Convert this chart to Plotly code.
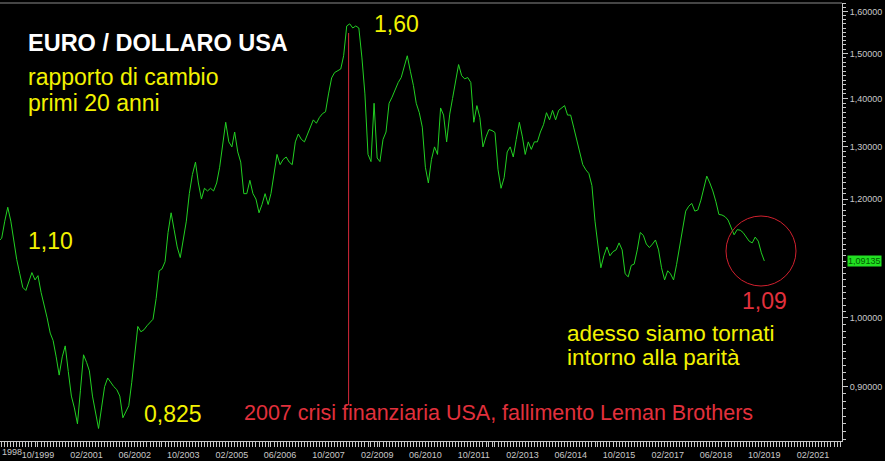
import numpy as np
import pandas as pd
import plotly.graph_objects as go

# ---------------- data (monthly EUR/USD) ----------------
start_month = "1998-09-01"
eur_1998 = [1.125, 1.13, 1.16, 1.185]
eur_1999 = [1.16, 1.125, 1.094, 1.07, 1.048, 1.043, 1.056, 1.072, 1.06, 1.067, 1.04, 1.022]
eur_2000 = [1.0, 0.977, 0.966, 0.942, 0.916, 0.942, 0.958, 0.921, 0.887, 0.871, 0.85, 0.895]
eur_2001 = [0.945, 0.934, 0.922, 0.887, 0.863, 0.844, 0.871, 0.90, 0.912, 0.906, 0.90, 0.896]
eur_2002 = [0.887, 0.858, 0.865, 0.874, 0.906, 0.95, 0.987, 0.979, 0.982, 0.988, 0.993, 0.998]
eur_2003 = [1.03, 1.075, 1.078, 1.09, 1.14, 1.175, 1.145, 1.115, 1.097, 1.13, 1.16, 1.21]
eur_2004 = [1.246, 1.27, 1.23, 1.20, 1.22, 1.215, 1.22, 1.215, 1.23, 1.26, 1.31, 1.35]
eur_2005 = [1.31, 1.30, 1.33, 1.29, 1.27, 1.21, 1.21, 1.235, 1.21, 1.20, 1.175, 1.19]
eur_2006 = [1.21, 1.19, 1.21, 1.25, 1.285, 1.265, 1.275, 1.28, 1.27, 1.265, 1.31, 1.326]
eur_2007 = [1.315, 1.31, 1.325, 1.338, 1.355, 1.348, 1.36, 1.368, 1.372, 1.41, 1.445, 1.457]
eur_2008 = [1.462, 1.465, 1.495, 1.565, 1.57, 1.56, 1.565, 1.56, 1.49, 1.41, 1.285, 1.271]
eur_2009 = [1.39, 1.278, 1.271, 1.315, 1.33, 1.39, 1.403, 1.42, 1.435, 1.446, 1.47, 1.495]
eur_2010 = [1.46, 1.428, 1.39, 1.37, 1.34, 1.26, 1.23, 1.275, 1.30, 1.285, 1.38, 1.365]
eur_2011 = [1.31, 1.367, 1.40, 1.435, 1.475, 1.45, 1.443, 1.446, 1.435, 1.35, 1.385, 1.36]
eur_2012 = [1.30, 1.32, 1.335, 1.333, 1.329, 1.255, 1.22, 1.24, 1.29, 1.30, 1.28, 1.315]
eur_2013 = [1.35, 1.32, 1.285, 1.31, 1.295, 1.31, 1.31, 1.33, 1.345, 1.37, 1.355, 1.375]
eur_2014 = [1.355, 1.375, 1.38, 1.385, 1.365, 1.365, 1.34, 1.315, 1.285, 1.265, 1.255, 1.248]
eur_2015 = [1.225, 1.16, 1.12, 1.08, 1.10, 1.115, 1.10, 1.107, 1.11, 1.122, 1.11, 1.07]
eur_2016 = [1.065, 1.084, 1.086, 1.11, 1.14, 1.135, 1.12, 1.114, 1.12, 1.127, 1.11, 1.08]
eur_2017 = [1.06, 1.075, 1.07, 1.06, 1.085, 1.114, 1.15, 1.178, 1.187, 1.192, 1.178, 1.18]
eur_2018 = [1.198, 1.22, 1.243, 1.23, 1.215, 1.195, 1.172, 1.171, 1.168, 1.162, 1.148, 1.136]
eur_2019 = [1.145, 1.144, 1.14, 1.132, 1.125, 1.122, 1.132, 1.125, 1.105, 1.09135]

y_ticks = [0.9, 1.0, 1.1, 1.2, 1.3, 1.4, 1.5, 1.6]
# the 1,10000 label is hidden behind the green last-value box in the reference
y_tick_labels = ["0,90000", "1,00000", "", "1,20000", "1,30000", "1,40000", "1,50000", "1,60000"]
last_value_label = "1,09135"
crisis_date = "2008-04-20"

values = (eur_1998 + eur_1999 + eur_2000 + eur_2001 + eur_2002 + eur_2003 + eur_2004
          + eur_2005 + eur_2006 + eur_2007 + eur_2008 + eur_2009 + eur_2010 + eur_2011
          + eur_2012 + eur_2013 + eur_2014 + eur_2015 + eur_2016 + eur_2017 + eur_2018
          + eur_2019)
dates = pd.date_range(start_month, periods=len(values), freq="MS")

# ---------------- figure ----------------
W, H = 885, 461
ML, MR, MT, MB = 0, 43, 3, 20
PW, PH = W - ML - MR, H - MT - MB


def px(x):
    return (x - ML) / PW


def py(y):
    return (H - MB - y) / PH


FONT = "Liberation Sans, Arial, sans-serif"
YELLOW = "#f2f200"
RED = "#e2303c"
GREY = "#c8c8c8"

fig = go.Figure()
fig.add_trace(go.Scatter(x=dates, y=values, mode="lines",
                         line=dict(color="#22d022", width=1), hoverinfo="skip"))

minor_vals = [round(v, 2) for v in np.arange(0.83, 1.625, 0.01)]

fig.update_layout(
    width=W, height=H,
    margin=dict(l=ML, r=MR, t=MT, b=MB, autoexpand=False),
    paper_bgcolor="black", plot_bgcolor="black",
    showlegend=False,
    font=dict(family=FONT, color=GREY),
    xaxis=dict(
        type="date", range=["1998-09-14", "2021-11-20"],
        showgrid=False, zeroline=False, automargin=False,
        showline=True, linecolor=GREY, linewidth=1,
        ticks="outside", ticklen=5, tickcolor=GREY, tickwidth=1,
        tick0="1999-10-01", dtick="M16", tickformat="%m/%Y",
        tickfont=dict(size=9, color=GREY, family=FONT),
        minor=dict(dtick="M1", tick0="1999-10-01", ticks="outside",
                   ticklen=5, tickcolor=GREY, tickwidth=1),
    ),
    yaxis=dict(
        type="log", side="right", range=[-0.0820, 0.2098],
        showgrid=False, zeroline=False, automargin=False,
        showline=True, linecolor=GREY, linewidth=1,
        tickmode="array", tickvals=y_ticks, ticktext=y_tick_labels,
        ticks="outside", ticklen=5, tickcolor=GREY, tickwidth=1,
        tickfont=dict(size=9, color=GREY, family=FONT),
        minor=dict(tickmode="array", tickvals=minor_vals, ticks="outside",
                   ticklen=3, tickcolor=GREY, tickwidth=1),
    ),
)

shapes = [
    # top frame line
    dict(type="line", xref="paper", yref="paper", x0=0, x1=1, y0=1, y1=1,
         line=dict(color="#8a8a8a", width=1)),
    # crisis vertical line
    dict(type="line", xref="x", yref="paper", x0=crisis_date, x1=crisis_date,
         y0=py(405), y1=py(33), line=dict(color="#d8283a", width=1)),
    # red circle around the recent values
    dict(type="circle", xref="paper", yref="paper",
         x0=px(726), x1=px(796), y0=py(286), y1=py(216),
         line=dict(color="#d0202e", width=1)),
]
fig.update_layout(shapes=shapes)


def label(text, x, y, size, color, bold=False):
    t = f"<b>{text}</b>" if bold else text
    return dict(text=t, xref="paper", yref="paper", x=px(x), y=py(y),
                xanchor="left", yanchor="middle", showarrow=False,
                font=dict(size=size, color=color, family=FONT))


annotations = [
    label("EURO / DOLLARO USA", 26, 43, 23.5, "white", bold=True),
    label("rapporto di cambio", 26, 77, 23, YELLOW),
    label("primi 20 anni", 26, 103, 23, YELLOW),
    label("1,10", 26, 241, 23, YELLOW),
    label("0,825", 142, 414, 23, YELLOW),
    label("1,60", 372, 24, 23, YELLOW),
    label("1,09", 740, 301, 23, RED),
    label("adesso siamo tornati", 565, 333, 22.5, YELLOW),
    label("intorno alla parità", 565, 357, 22.5, YELLOW),
    label("2007 crisi finanziaria USA, fallimento Leman Brothers", 242, 413, 21.5, RED),
    dict(text="1998", xref="paper", yref="paper", x=0, y=py(452),
         xanchor="left", yanchor="middle", showarrow=False,
         font=dict(size=9, color=GREY, family=FONT)),
    dict(text=last_value_label, xref="paper", yref="y", x=1,
         y=float(np.log10(values[-1])), xanchor="left", yanchor="middle",
         xshift=5, showarrow=False, bgcolor="#22e022", borderpad=0,
         font=dict(size=9, color="#005a00", family=FONT)),
]
fig.update_layout(annotations=annotations)

fig.write_html("out.html",
               config={"displayModeBar": False},
               post_script="document.body.style.margin='0';document.body.style.background='black';")
